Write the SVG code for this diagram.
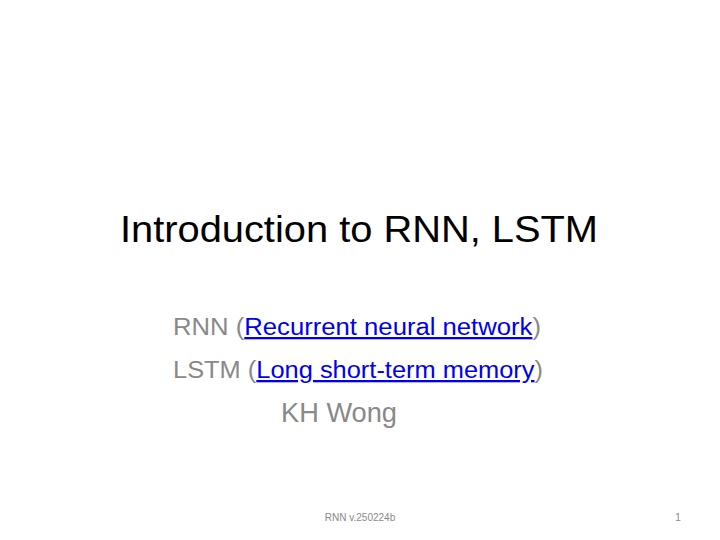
<svg xmlns="http://www.w3.org/2000/svg" width="720" height="540" viewBox="0 0 720 540">
<style>
text{font-family:"Liberation Sans",Arial,sans-serif}
.g{fill:#898989}
.l{fill:#0000ee;text-decoration:underline}
</style>
<rect width="720" height="540" fill="#fff"/>
<text x="120" y="242" font-size="36" fill="#000" textLength="478" lengthAdjust="spacingAndGlyphs">Introduction to RNN, LSTM</text>
<text x="173" y="335" font-size="23" class="g" textLength="368" lengthAdjust="spacingAndGlyphs">RNN (<tspan class="l">Recurrent neural network</tspan>)</text>
<text x="173" y="378" font-size="23" class="g" textLength="370" lengthAdjust="spacingAndGlyphs">LSTM (<tspan class="l">Long short-term memory</tspan>)</text>
<text x="281" y="422" font-size="27" class="g" textLength="116" lengthAdjust="spacingAndGlyphs">KH Wong</text>
<text x="360" y="521" font-size="10" class="g" text-anchor="middle">RNN v.250224b</text>
<text x="678" y="521" font-size="10" class="g" text-anchor="middle">1</text>
</svg>
